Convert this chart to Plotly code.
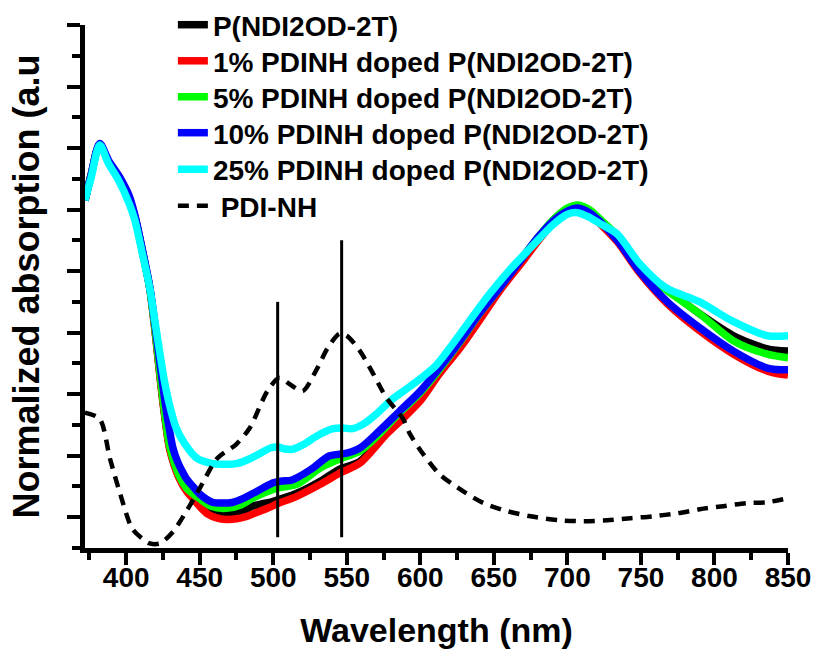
import plotly.graph_objects as go

# ---------------- data ----------------
wl_black = [372, 376, 382, 388, 395, 402, 406, 411, 416, 419.5, 423, 426, 429.6, 436, 441, 445, 450,
            455, 462, 468, 478, 486, 500, 516, 532, 545, 559, 577, 600, 613, 627, 640, 654, 669, 681,
            692, 700, 707, 715, 722, 734, 749, 768, 790, 813, 836, 850]
ab_black = [1.03, 1.11, 1.212, 1.155, 1.10, 1.035, 0.975, 0.865, 0.745, 0.615, 0.46, 0.34, 0.225,
            0.13, 0.09, 0.07, 0.045, 0.03, 0.018, 0.013, 0.018, 0.036, 0.052, 0.078, 0.117, 0.156,
            0.182, 0.275, 0.385, 0.47, 0.555, 0.645, 0.74, 0.835, 0.91, 0.972, 1.0, 1.01, 0.995,
            0.965, 0.91, 0.81, 0.74, 0.661, 0.59, 0.547, 0.54]

wl_red = [372, 376, 382, 388, 395, 402, 406, 411, 416, 419.5, 423, 426, 429.6, 436, 441, 445, 450,
          455, 462, 468, 475, 482, 490, 496, 504, 516, 532, 545, 559, 577, 588, 600, 613, 627, 640,
          654, 670, 682, 693, 700, 707, 715, 722, 734, 749, 768, 790, 813, 836, 850]
ab_red = [1.03, 1.11, 1.212, 1.155, 1.10, 1.035, 0.975, 0.865, 0.745, 0.61, 0.455, 0.335, 0.22,
          0.127, 0.085, 0.062, 0.035, 0.012, -0.003, -0.007, -0.005, 0.003, 0.018, 0.029, 0.046,
          0.068, 0.107, 0.143, 0.176, 0.27, 0.32, 0.378, 0.466, 0.55, 0.638, 0.736, 0.834, 0.91,
          0.97, 0.995, 1.005, 0.985, 0.955, 0.895, 0.795, 0.694, 0.606, 0.53, 0.475, 0.462]

wl_green = [372, 376, 382, 388, 395, 402, 406, 411, 416, 419.5, 423, 426, 429.6, 436, 441, 445, 450,
            458, 468, 478, 486, 502, 516, 532, 545, 559, 572, 586, 600, 613, 627, 640, 654, 668, 680,
            692, 700, 707, 715, 722, 734, 749, 768, 790, 813, 836, 850]
ab_green = [1.03, 1.11, 1.212, 1.155, 1.10, 1.035, 0.975, 0.865, 0.745, 0.615, 0.465, 0.345, 0.23,
            0.135, 0.095, 0.078, 0.06, 0.035, 0.029, 0.04, 0.062, 0.094, 0.107, 0.16, 0.189, 0.215,
            0.27, 0.34, 0.405, 0.48, 0.57, 0.66, 0.746, 0.835, 0.91, 0.975, 1.005, 1.015, 1.0, 0.97,
            0.915, 0.81, 0.736, 0.661, 0.573, 0.53, 0.518]

wl_blue = [372, 376, 382, 388, 395, 402, 406, 411, 416, 419.5, 423, 426, 428.5, 431.8, 435, 438.6,
           441, 445.4, 450, 459, 466, 472, 480, 486, 493, 500, 506, 512, 516, 527, 538, 550, 559, 572,
           586, 600, 613, 627, 640, 654, 668, 680, 692, 700, 707, 715, 722, 734, 749, 768, 790, 813,
           836, 850]
ab_blue = [1.03, 1.11, 1.215, 1.16, 1.11, 1.045, 0.98, 0.87, 0.75, 0.63, 0.50, 0.39, 0.31, 0.225,
           0.18, 0.145, 0.125, 0.1, 0.075, 0.048, 0.046, 0.048, 0.062, 0.077, 0.095, 0.112, 0.118,
           0.12, 0.128, 0.16, 0.199, 0.208, 0.225, 0.28, 0.345, 0.41, 0.485, 0.573, 0.661, 0.746,
           0.834, 0.91, 0.97, 0.995, 1.005, 0.99, 0.962, 0.90, 0.80, 0.70, 0.616, 0.54, 0.485,
           0.479]

wl_cyan = [372, 376, 382, 388, 395, 402, 406, 411, 416, 419.5, 423, 426, 430, 434, 440, 448, 457,
           467, 475, 484, 492, 498, 503, 508, 513, 520, 530, 540, 547, 554, 562, 570, 580, 590, 600,
           610, 620, 633, 647, 660, 675, 690, 700, 707, 715, 722, 734, 749, 767, 790, 812, 836, 850]
ab_cyan = [1.03, 1.10, 1.21, 1.15, 1.094, 1.02, 0.964, 0.857, 0.746, 0.638, 0.531, 0.443, 0.355,
           0.29, 0.238, 0.192, 0.176, 0.172, 0.174, 0.19, 0.21, 0.225, 0.228, 0.222, 0.221, 0.235,
           0.265, 0.287, 0.29, 0.288, 0.305, 0.335, 0.38, 0.415, 0.45, 0.49, 0.55, 0.635, 0.725,
           0.80, 0.876, 0.95, 0.985, 0.99, 0.975, 0.955, 0.92, 0.825, 0.746, 0.70, 0.638, 0.59,
           0.59]

wl_pdi = [372, 382, 389, 396, 404, 411, 416, 423, 432, 441, 450, 462, 475, 484, 496, 504, 511, 520,
          530, 537, 545, 550, 559, 568, 577, 588, 593, 602, 613, 629, 643, 659, 675, 695, 711, 727,
          743, 758, 775, 790, 806, 822, 836, 850]
ab_pdi = [0.34, 0.32, 0.19, 0.075, -0.036, -0.07, -0.085, -0.085, -0.046, 0.02, 0.094, 0.192, 0.238,
          0.29, 0.41, 0.453, 0.433, 0.41, 0.485, 0.55, 0.596, 0.59, 0.54, 0.466, 0.388, 0.322, 0.27,
          0.205, 0.14, 0.085, 0.046, 0.02, 0.003, -0.01, -0.013, -0.01, -0.003, 0.003, 0.013, 0.026,
          0.036, 0.046, 0.049, 0.062]

series_names = ["P(NDI2OD-2T)", "1% PDINH doped P(NDI2OD-2T)", "5% PDINH doped P(NDI2OD-2T)",
                "10% PDINH doped P(NDI2OD-2T)", "25% PDINH doped P(NDI2OD-2T)", "\u00a0PDI-NH"]
series_colors = ["#000000", "#FF0000", "#00FF00", "#0000FF", "#00FFFF", "#000000"]

marker_x = [503, 546.5]          # vertical guide lines (nm)
marker_bottom = [-0.065, -0.065]
marker_top = [0.70, 0.90]

x_ticks = [400, 450, 500, 550, 600, 650, 700, 750, 800, 850]

# ---------------- figure ----------------
font_family = "Liberation Sans, Arial, Helvetica, sans-serif"
legend_ids = ["legend", "legend2", "legend3", "legend4", "legend5", "legend6"]
legend_rows_y = [1.0, 0.931, 0.862, 0.7935, 0.7235, 0.654]

fig = go.Figure()
curves = [(wl_black, ab_black), (wl_red, ab_red), (wl_green, ab_green),
          (wl_blue, ab_blue), (wl_cyan, ab_cyan)]
for i, (xs, ys) in enumerate(curves):
    fig.add_trace(go.Scatter(x=xs, y=ys, mode="lines", name=series_names[i],
                             legend=legend_ids[i],
                             line=dict(color=series_colors[i], width=7.5, shape="spline",
                                       smoothing=0.8)))

for mx, mb, mt in zip(marker_x, marker_bottom, marker_top):
    fig.add_trace(go.Scatter(x=[mx, mx], y=[mb, mt], mode="lines", showlegend=False,
                             line=dict(color="#000000", width=3), hoverinfo="skip"))

fig.add_trace(go.Scatter(x=wl_pdi, y=ab_pdi, mode="lines", name=series_names[5],
                         legend=legend_ids[5],
                         line=dict(color=series_colors[5], width=4.5, dash="11px,8px",
                                   shape="spline", smoothing=0.8)))

legend_font = dict(size=28, family=font_family, color="black", weight="bold")
legend_layout = {}
for lid, ly in zip(legend_ids, legend_rows_y):
    legend_layout[lid] = dict(x=0.125, y=ly, xanchor="left", yanchor="middle",
                              bgcolor="rgba(0,0,0,0)", borderwidth=0, font=legend_font,
                              itemwidth=30)

fig.update_layout(
    width=817, height=653,
    margin=dict(l=85, r=29, t=25, b=105, autoexpand=False),
    paper_bgcolor="white", plot_bgcolor="white",
    font=dict(family=font_family, color="black", weight="bold"),
    showlegend=True,
    xaxis=dict(range=[372, 850], showline=True, linewidth=5, linecolor="black",
               showgrid=False, zeroline=False, mirror=False, automargin=False,
               ticks="outside", ticklen=12, tickwidth=4, tickcolor="black",
               tickvals=x_ticks, ticktext=[str(v) for v in x_ticks],
               ticklabelstandoff=-12,
               tickfont=dict(size=28, family=font_family, color="black", weight="bold"),
               minor=dict(ticks="outside", ticklen=7, tickwidth=4, tickcolor="black", dtick=25,
                          tick0=375, showgrid=False),
               title=dict(text="Wavelength (nm)", standoff=28,
                          font=dict(size=34, family=font_family, color="black", weight="bold"))),
    yaxis=dict(range=[-0.1, 1.6], showline=True, linewidth=5, linecolor="black",
               showgrid=False, zeroline=False, mirror=False, automargin=False,
               ticks="outside", ticklen=13, tickwidth=4, tickcolor="black",
               dtick=0.2, tick0=0, showticklabels=False,
               minor=dict(ticks="outside", ticklen=8, tickwidth=4, tickcolor="black", dtick=0.1,
                          showgrid=False),
               title=dict(text="Normalized absorption (a.u", standoff=18,
                          font=dict(size=36, family=font_family, color="black", weight="bold"))),
    **legend_layout,
)

fig.write_html("out.html", config={"displayModeBar": False},
               post_script="document.body.style.margin='0px';")
